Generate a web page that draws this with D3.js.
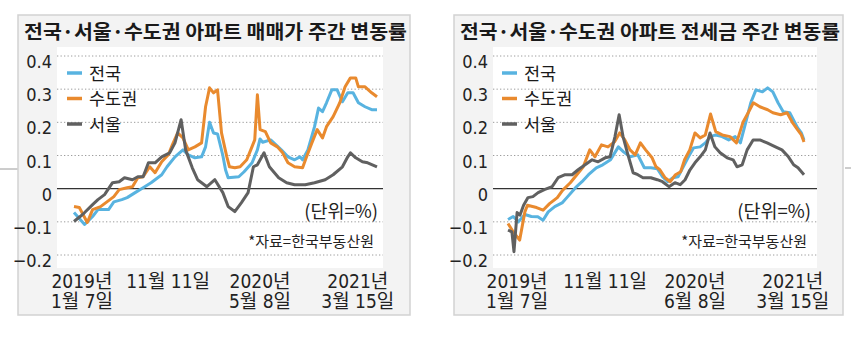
<!DOCTYPE html>
<html>
<head>
<meta charset="utf-8">
<script src="https://cdn.jsdelivr.net/npm/d3@7"></script>
<style>
  body { margin: 0; background: #fff; }
  svg { display: block; }
</style>
</head>
<body>
<div id="chart"></div>
<script>
// weekly change (%), x = week number since 2019-01-07
const seriesNames = ["전국", "수도권", "서울"]
const seriesColors = ["#58b3e0", "#e98a2e", "#606060"]

const saleNation = [[0,-0.072],[4,-0.108],[7,-0.084],[9,-0.063],[13,-0.063],[15,-0.04],[18,-0.033],[20,-0.027],[23,-0.012],[26,0.003],[29,0.018],[33,0.042],[35,0.066],[38,0.096],[41,0.117],[43,0.102],[45.5,0.093],[48,0.096],[49.5,0.126],[51,0.2],[52.5,0.168],[54,0.165],[56,0.1],[57,0.057],[58,0.033],[62,0.036],[64,0.051],[67,0.078],[69,0.117],[70,0.15],[71,0.14],[74,0.147],[76,0.132],[78,0.117],[80.5,0.096],[83,0.087],[85,0.096],[86,0.087],[88,0.117],[90.5,0.187],[92,0.243],[93.5,0.232],[95,0.259],[97,0.298],[99,0.298],[101,0.262],[103,0.289],[105,0.289],[107,0.259],[109.5,0.247],[112,0.238],[114,0.238]]
const saleMetro = [[0,-0.054],[2,-0.057],[5,-0.102],[7,-0.063],[10,-0.054],[12.5,-0.039],[15,-0.024],[17,-0.003],[20,0.003],[22,0.006],[24,0.033],[26,0.036],[28.5,0.066],[30.5,0.048],[33,0.081],[35.5,0.102],[37,0.132],[39,0.168],[41,0.153],[43,0.117],[45.5,0.126],[48,0.138],[49.5,0.247],[51,0.304],[52.5,0.289],[54,0.298],[55.5,0.168],[57.5,0.096],[58.5,0.066],[60.5,0.063],[62.5,0.066],[65,0.087],[66.5,0.117],[68,0.147],[69,0.283],[70,0.178],[72,0.172],[74,0.138],[76.5,0.126],[78.5,0.108],[80.5,0.078],[83,0.066],[86,0.063],[87.5,0.096],[89.5,0.138],[91.5,0.178],[93.5,0.153],[95,0.187],[97.5,0.217],[100,0.259],[102,0.307],[104,0.334],[106,0.334],[107,0.307],[109.5,0.307],[112,0.289],[114,0.277]]
const saleSeoul = [[0,-0.099],[2.3,-0.084],[4,-0.072],[7,-0.048],[9,-0.033],[11.5,-0.018],[14.5,0.018],[17,0.021],[19,0.033],[22,0.027],[24,0.036],[26,0.036],[28,0.078],[30.5,0.078],[33,0.096],[36,0.108],[38,0.138],[40.3,0.208],[42,0.117],[44.5,0.063],[46.5,0.027],[50,0.006],[53,0.027],[56,-0.012],[58,-0.054],[60.5,-0.069],[63,-0.042],[65.5,-0.012],[67.5,0.066],[69,0.072],[71.5,0.108],[73.5,0.066],[77,0.033],[80,0.018],[83,0.012],[87,0.012],[90.5,0.018],[94.5,0.027],[97.5,0.042],[101,0.066],[103,0.096],[104,0.108],[106,0.093],[108.5,0.081],[110.5,0.078],[114,0.066]]

const jeonseNation = [[0,-0.093],[2,-0.084],[4,-0.1],[6.5,-0.078],[9,-0.084],[11.5,-0.085],[13.5,-0.095],[15.5,-0.07],[18,-0.054],[21,-0.042],[23,-0.024],[26,0.003],[28.5,0.021],[31,0.042],[34,0.063],[36.5,0.072],[39.5,0.087],[42.5,0.126],[44.5,0.111],[47,0.096],[50,0.102],[52.5,0.063],[55,0.063],[57.5,0.06],[59.5,0.036],[61.5,0.021],[63.5,0.033],[65.5,0.036],[67.5,0.066],[69.5,0.096],[71.5,0.123],[74,0.126],[76,0.138],[78,0.157],[80,0.162],[82.5,0.157],[85,0.147],[87.5,0.157],[89.5,0.138],[91.5,0.198],[93.5,0.259],[95.5,0.298],[98,0.292],[100,0.304],[102,0.292],[104,0.259],[106,0.232],[108.5,0.229],[111.5,0.184],[113,0.168],[114,0.147]]
const jeonseMetro = [[0,-0.105],[2,-0.13],[4.5,-0.155],[6.5,-0.07],[7.5,-0.05],[11,-0.057],[13.5,-0.065],[16,-0.045],[19,-0.027],[21,-0.005],[24,0.018],[26.5,0.042],[29,0.066],[31.5,0.117],[33.5,0.096],[36,0.132],[38.5,0.126],[41,0.141],[43,0.168],[45,0.147],[47,0.117],[49,0.102],[51,0.138],[53,0.117],[55.5,0.093],[57,0.066],[58.5,0.057],[60.5,0.033],[62.5,0.021],[64.5,0.042],[66.5,0.051],[68,0.087],[70,0.117],[72,0.168],[74,0.153],[76,0.162],[78,0.225],[80,0.172],[82.5,0.162],[85.5,0.157],[88,0.138],[90.5,0.2],[92.5,0.229],[94.5,0.259],[97,0.247],[100,0.238],[102,0.229],[105,0.223],[107.5,0.229],[109.5,0.2],[111.5,0.178],[113,0.162],[114,0.141]]
const jeonseSeoul = [[0,-0.125],[1.5,-0.13],[2.3,-0.19],[3.5,-0.072],[4.6,-0.08],[6,-0.05],[7.7,-0.027],[9.6,-0.024],[11.6,-0.012],[14,-0.003],[17,0.006],[19.3,0.033],[22,0.042],[24.7,0.042],[27,0.057],[29.7,0.072],[32.4,0.087],[34.7,0.081],[37.4,0.093],[39.3,0.096],[41.2,0.157],[42.8,0.223],[44.3,0.157],[46.2,0.102],[48.2,0.048],[50,0.042],[52,0.033],[55,0.033],[57.5,0.027],[59.5,0.021],[62,0.006],[64.3,0.018],[66.3,0.012],[68.2,0.027],[70.1,0.057],[72,0.078],[74,0.096],[76,0.117],[77.8,0.168],[79.7,0.126],[81.7,0.108],[84.4,0.093],[86.7,0.087],[88.2,0.066],[90.2,0.072],[92.1,0.117],[94.4,0.147],[97,0.147],[99.8,0.138],[103,0.126],[105.5,0.117],[108,0.096],[110,0.072],[111.7,0.063],[114,0.042]]

const yTicks = [0.4, 0.3, 0.2, 0.1, 0, -0.1, -0.2]
const saleTickWeeks = [3, 35.4, 70, 106.8]
const saleTickLabels = [["2019년", "1월 7일"], ["11월 11일", ""], ["2020년", "5월 8일"], ["2021년", "3월 15일"]]
const jeonseTickWeeks = [3.5, 37.4, 72, 109.7]
const jeonseTickLabels = [["2019년", "1월 7일"], ["11월 11일", ""], ["2020년", "6월 8일"], ["2021년", "3월 15일"]]

const numFont = "'Liberation Sans Narrow', 'DejaVu Sans Condensed', 'Noto Sans CJK KR', sans-serif"
const krFont = "'Noto Sans CJK KR', sans-serif"

svg = d3.select("#chart").append("svg")
  .attr("width", 851)
  .attr("height", 354)

// little page rules outside the boxes
svg.append("line").attr("x1", 0).attr("x2", 18).attr("y1", 169).attr("y2", 169)
  .attr("stroke", "#9a9a9a").attr("stroke-width", 1)
svg.append("line").attr("x1", 845).attr("x2", 851).attr("y1", 168).attr("y2", 168)
  .attr("stroke", "#9a9a9a").attr("stroke-width", 1)

function drawPanel(p) {
  const g = svg.append("g")

  g.append("rect")
    .attr("x", p.box[0]).attr("y", 15)
    .attr("width", p.box[1] - p.box[0]).attr("height", 300)
    .attr("fill", "#f3f3f3").attr("stroke", "#d2d2d2").attr("stroke-width", 1.5)

  g.append("rect")
    .attr("x", p.plot[0]).attr("y", 47)
    .attr("width", p.plot[1] - p.plot[0]).attr("height", 221)
    .attr("fill", "#fff")

  g.append("text")
    .attr("x", p.box[0] + 6).attr("y", 39)
    .attr("textLength", p.titleWidth).attr("lengthAdjust", "spacingAndGlyphs")
    .style("font-family", krFont).style("font-weight", 700).style("font-size", "19.5px")
    .attr("fill", "#1a1a1a")
    .text(p.title)

  x = d3.scaleLinear().domain([0, 114]).range(p.xRange)
  y = d3.scaleLinear().domain([-0.2, 0.4]).range([255, 56])

  // grid
  g.append("g").selectAll("line")
    .data(yTicks.filter(d => d !== 0))
    .enter().append("line")
    .attr("x1", p.plot[0]).attr("x2", p.plot[1])
    .attr("y1", d => y(d)).attr("y2", d => y(d))
    .attr("stroke", "#9c9c9c").attr("stroke-width", 1).attr("stroke-dasharray", "1.3,2.2")

  g.append("line")
    .attr("x1", p.plot[0]).attr("x2", p.plot[1])
    .attr("y1", y(0)).attr("y2", y(0))
    .attr("stroke", "#333").attr("stroke-width", 1.3)

  // y labels
  g.append("g").selectAll("text")
    .data(yTicks)
    .enter().append("text")
    .attr("x", p.plot[0] - 5).attr("y", d => y(d) + 12)
    .attr("text-anchor", "end")
    .style("font-family", numFont).style("font-size", "18px")
    .attr("fill", "#222")
    .text(d => d === 0 ? "0" : (d < 0 ? "−" : "") + Math.abs(d).toFixed(1))

  // x labels
  const xl = g.append("g").selectAll("text")
    .data(p.tickWeeks)
    .enter().append("text")
    .attr("x", d => x(d))
    .attr("text-anchor", "middle")
    .style("font-family", numFont).style("font-size", "19px")
    .attr("fill", "#222")
  xl.append("tspan").attr("x", d => x(d)).attr("y", 288).text((d, i) => p.tickLabels[i][0])
  xl.append("tspan").attr("x", d => x(d)).attr("y", 308).text((d, i) => p.tickLabels[i][1])

  // lines
  line = d3.line()
    .x(d => x(d[0]))
    .y(d => y(d[1]))

  p.series.forEach((s, i) => {
    g.append("path")
      .datum(s)
      .attr("fill", "none")
      .attr("stroke", seriesColors[i])
      .attr("stroke-width", 3)
      .attr("stroke-linejoin", "round")
      .attr("d", line)
  })

  // legend
  seriesNames.forEach((n, i) => {
    const ly = 73 + i * 25.5
    g.append("line")
      .attr("x1", p.legendX).attr("x2", p.legendX + 15)
      .attr("y1", ly).attr("y2", ly)
      .attr("stroke", seriesColors[i]).attr("stroke-width", 3.5)
    g.append("text")
      .attr("x", p.legendX + 22).attr("y", ly + 6.5)
      .style("font-family", krFont).style("font-size", "17.5px")
      .attr("fill", "#1a1a1a")
      .text(n)
  })

  g.append("text")
    .attr("x", p.noteX).attr("y", 218)
    .attr("text-anchor", "end")
    .style("font-family", krFont).style("font-size", "18.5px")
    .attr("fill", "#222")
    .text("(단위=%)")

  g.append("text")
    .attr("x", p.noteX - 4).attr("y", 247)
    .attr("text-anchor", "end")
    .style("font-family", krFont).style("font-size", "15px")
    .attr("fill", "#222")
    .text("*자료=한국부동산원")
}

drawPanel({
  title: "전국·서울·수도권 아파트 매매가 주간 변동률",
  box: [18, 410], plot: [57, 383], xRange: [74, 377], titleWidth: 383,
  series: [saleNation, saleMetro, saleSeoul],
  tickWeeks: saleTickWeeks, tickLabels: saleTickLabels,
  legendX: 67, noteX: 378
})

drawPanel({
  title: "전국·서울·수도권 아파트 전세금 주간 변동률",
  box: [454, 843], plot: [493, 817], xRange: [508, 804], titleWidth: 380,
  series: [jeonseNation, jeonseMetro, jeonseSeoul],
  tickWeeks: jeonseTickWeeks, tickLabels: jeonseTickLabels,
  legendX: 502, noteX: 811
})
</script>
</body>
</html>
